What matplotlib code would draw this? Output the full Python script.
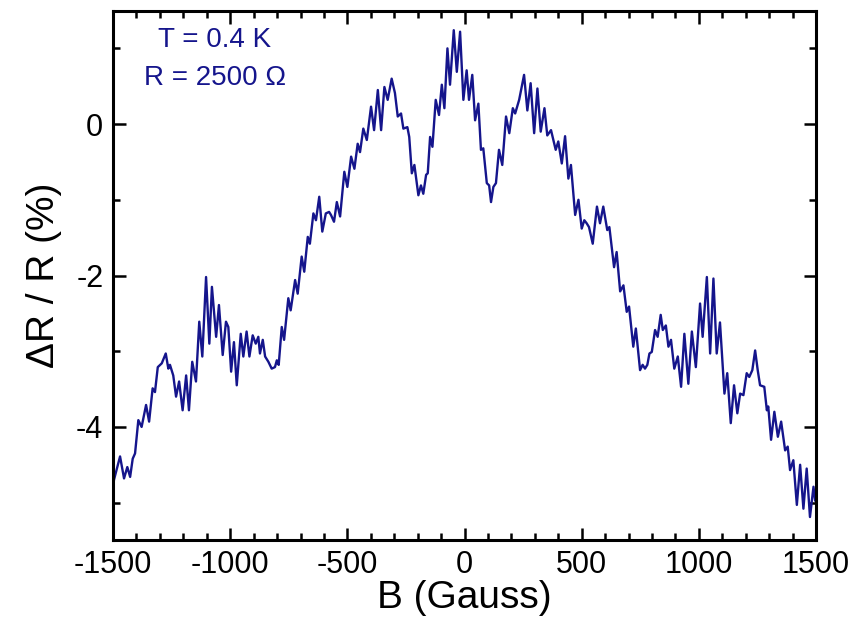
import matplotlib.pyplot as plt
import numpy as np

# Magnétorésistance à T = 0.4 K (champ en Gauss, variation en %)
champ_B = [
    -1500, -1496, -1470, -1453, -1439, -1427, -1416, -1406, -1392, -1378, -1359,
    -1346, -1331, -1321, -1309, -1292, -1275, -1264, -1257, -1243, -1231,
    -1218, -1203, -1188, -1176, -1162, -1146, -1132, -1119, -1103, -1089,
    -1078, -1060, -1048, -1032, -1018, -1008, -996, -984, -972, -955,
    -944, -930, -918, -904, -891, -880, -873, -861, -851, -837,
    -823, -809, -801, -793, -780, -770, -752, -742, -723, -712,
    -695, -684, -669, -660, -645, -634, -620, -607, -592, -578,
    -570, -557, -545, -531, -513, -500, -484, -470, -456, -446,
    -432, -417, -399, -386, -370, -356, -342, -328, -311, -297,
    -285, -271, -261, -244, -236, -225, -214, -197, -186, -176,
    -164, -157, -147, -137, -123, -109, -97, -86, -73, -62,
    -46, -33, -19, -5, 9, 19, 33, 45, 59, 70,
    80, 95, 105, 113, 123, 134, 147, 161, 177, 191,
    206, 216, 233, 254, 268, 282, 297, 311, 325, 341,
    353, 369, 379, 389, 400, 415, 429, 443, 454, 472,
    486, 500, 511, 521, 531, 547, 565, 578, 592, 609,
    618, 638, 649, 664, 678, 692, 702, 720, 731, 749,
    760, 770, 780, 789, 799, 813, 824, 837, 846, 859,
    870, 881, 895, 910, 924, 938, 955, 970, 987, 1005,
    1016, 1034, 1048, 1062, 1076, 1090, 1109, 1121, 1136, 1150,
    1164, 1176, 1190, 1204, 1215, 1228, 1240, 1251, 1261, 1279,
    1290, 1296, 1308, 1322, 1337, 1351, 1368, 1379, 1389, 1403,
    1418, 1432, 1446, 1460, 1474, 1489, 1496,
]
delta_R = [
    -4.82, -4.70, -4.39, -4.68, -4.53, -4.66, -4.42, -4.35, -3.91, -4.00, -3.71,
    -3.93, -3.49, -3.54, -3.21, -3.16, -3.03, -3.23, -3.18, -3.32, -3.60,
    -3.40, -3.78, -3.32, -3.78, -3.14, -3.40, -2.61, -3.07, -2.02, -2.90,
    -2.15, -2.81, -2.39, -3.05, -2.61, -2.68, -3.27, -2.88, -3.45, -2.77,
    -3.07, -2.74, -3.07, -2.79, -2.90, -2.81, -3.03, -2.85, -3.07, -3.14,
    -3.23, -3.21, -3.12, -3.18, -2.68, -2.85, -2.30, -2.46, -2.06, -2.24,
    -1.75, -1.95, -1.49, -1.58, -1.18, -1.27, -0.96, -1.42, -1.18, -1.16,
    -1.20, -1.29, -1.03, -1.22, -0.63, -0.83, -0.43, -0.59, -0.26, -0.37,
    -0.06, -0.21, 0.23, -0.08, 0.45, -0.08, 0.49, 0.32, 0.60, 0.41,
    0.10, 0.14, -0.06, -0.04, -0.17, -0.65, -0.54, -0.94, -0.81, -0.92,
    -0.67, -0.65, -0.17, -0.30, 0.32, 0.12, 0.52, 0.21, 1.00, 0.52,
    1.24, 0.69, 1.22, 0.32, 0.71, 0.32, 0.65, 0.05, 0.27, -0.34,
    -0.32, -0.78, -0.81, -1.03, -0.83, -0.78, -0.34, -0.54, 0.10, -0.12,
    0.21, 0.14, 0.32, 0.65, 0.18, 0.54, -0.12, 0.47, -0.10, 0.21,
    -0.15, -0.08, -0.21, -0.34, -0.23, -0.52, -0.16, -0.72, -0.54, -1.20,
    -1.00, -1.38, -1.27, -1.31, -1.36, -1.58, -1.09, -1.31, -1.09, -1.40,
    -1.36, -1.89, -1.69, -2.21, -2.13, -2.48, -2.41, -2.94, -2.70, -3.25,
    -3.18, -3.23, -3.18, -3.03, -3.01, -2.72, -2.81, -2.52, -2.72, -2.66,
    -2.94, -2.85, -3.23, -3.07, -3.47, -2.77, -3.43, -2.74, -3.21, -2.37,
    -2.81, -2.02, -3.03, -2.04, -3.03, -2.62, -3.56, -3.29, -3.95, -3.45,
    -3.82, -3.56, -3.58, -3.29, -3.34, -3.25, -2.99, -3.25, -3.45, -3.47,
    -3.78, -3.73, -4.17, -3.80, -4.13, -3.93, -4.31, -4.26, -4.57, -4.44,
    -5.03, -4.50, -5.08, -4.55, -5.19, -4.79, -4.97,
]
ticks_x = [-1500, -1000, -500, 0, 500, 1000, 1500]
ticks_y = [0, -2, -4]

couleur = '#15158c'
plt.rcParams['font.family'] = ['Liberation Sans', 'DejaVu Sans']
plt.rcParams['axes.unicode_minus'] = False

fig = plt.figure(figsize=(8.53, 6.26), dpi=100)
ax = fig.add_axes([0.1325, 0.1366, 0.8242, 0.8466])
ax.plot(champ_B, delta_R, '-', color=couleur, linewidth=1.7,
        solid_joinstyle='round')

ax.set_xlim(-1500, 1500)
ax.set_ylim(-5.5, 1.5)
ax.set_xticks(ticks_x)
ax.set_yticks(ticks_y)
ax.set_xticks(np.arange(-1500, 1501, 100), minor=True)
ax.set_yticks([1, -1, -3, -5], minor=True)
ax.tick_params(which='both', direction='in', top=True, right=True,
               width=1.8, labelsize=22, pad=7)
ax.tick_params(which='major', length=9)
ax.tick_params(which='minor', length=5)
for spine in ax.spines.values():
    spine.set_linewidth(2.2)

ax.set_xlabel('B (Gauss)', fontsize=28, labelpad=0)
ax.set_ylabel('ΔR / R (%)', fontsize=28, labelpad=10)

ax.text(0.145, 0.968, 'T = 0.4 K', transform=ax.transAxes, fontsize=20,
        color=couleur, ha='center', va='top')
ax.text(0.145, 0.898, 'R = 2500 Ω', transform=ax.transAxes, fontsize=20,
        color=couleur, ha='center', va='top')

fig.savefig('out.png', dpi=100)
